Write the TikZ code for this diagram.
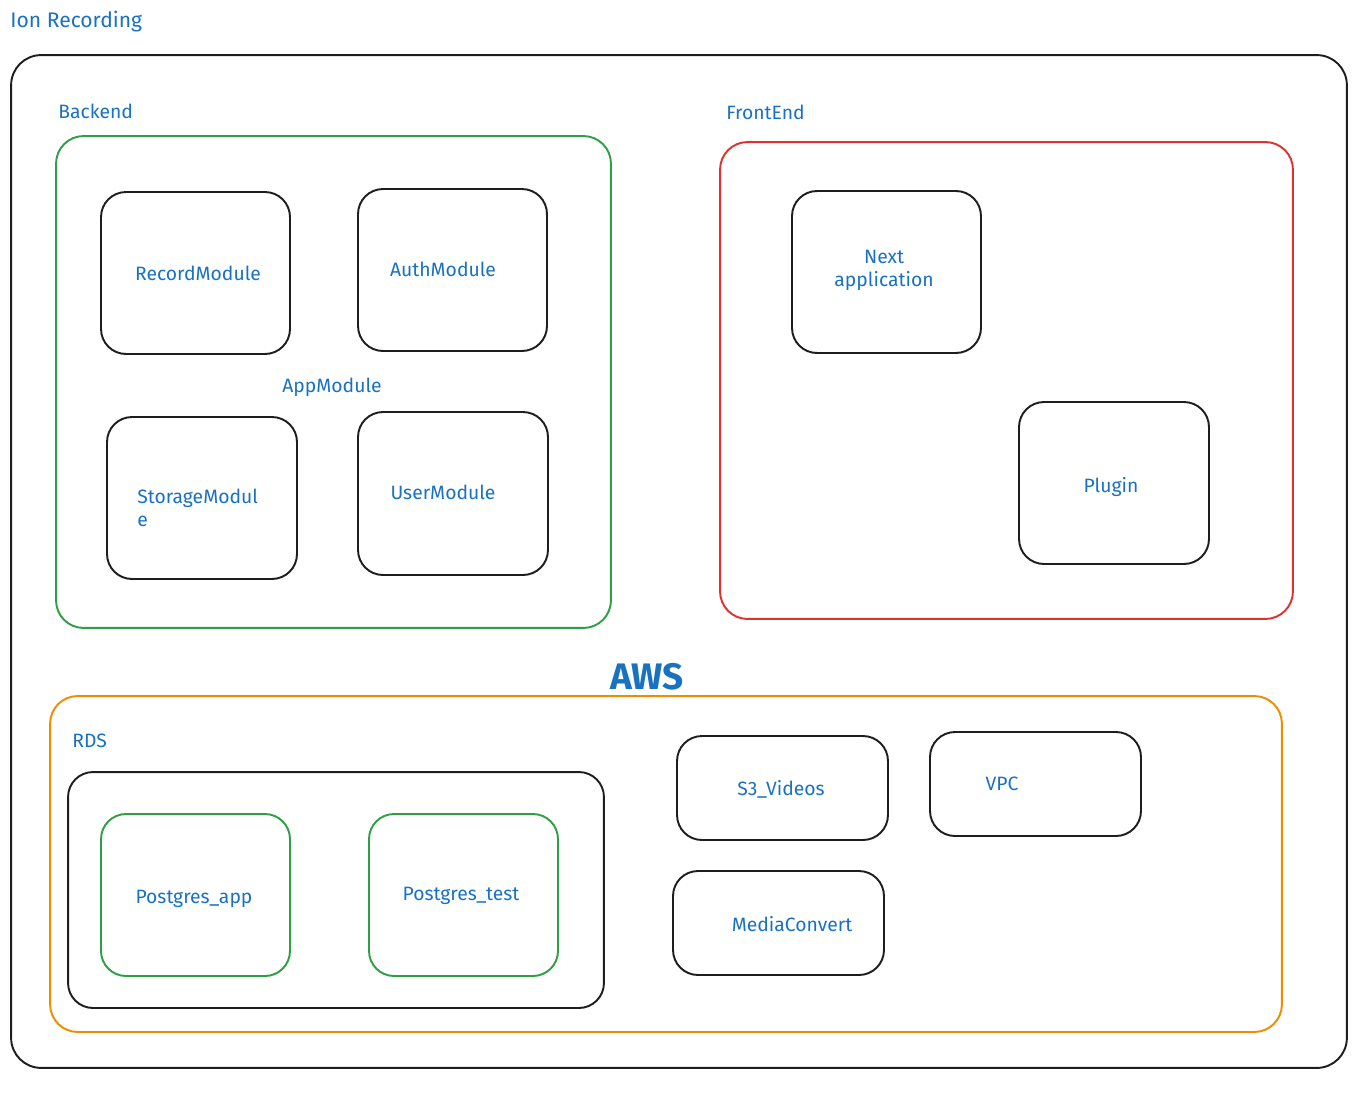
\documentclass[tikz,border=0pt]{standalone}
\usepackage{fontspec}
\setmainfont{Fira Sans}
\definecolor{txtblue}{HTML}{1971C2}
\definecolor{boxgreen}{HTML}{2F9E44}
\definecolor{boxred}{HTML}{E03131}
\definecolor{boxorange}{HTML}{F08C00}
\definecolor{boxblack}{HTML}{1E1E1E}
\tikzset{
  lbl/.style={text=txtblue,font=\fontsize{11}{13}\selectfont,inner sep=0pt},
  modbox/.style={draw=boxblack,line width=1.1pt,rounded corners=0.5cm,text=txtblue,
    font=\fontsize{11}{13}\selectfont,minimum width=3.78cm,minimum height=3.24cm,align=center},
  svcbox/.style={modbox,minimum width=4.22cm,minimum height=2.08cm},
  group/.style={line width=1.1pt,rounded corners=0.55cm,inner sep=0pt}
}
\begin{document}
\begin{tikzpicture}[x=0.02cm,y=-0.02cm]
            \useasboundingbox (0,0) rectangle (1356,1096);
            \node[lbl,anchor=west,font=\fontsize{12}{14}\selectfont] (title) at (10,22) {Ion Recording};
            \node[group,draw=boxblack,minimum width=26.72cm,minimum height=20.26cm,rounded corners=0.6cm] (outer) at (679,561.5) {};
            % backend
            \node[lbl,anchor=west] (backendlbl) at (58,111) {Backend};
            \node[group,draw=boxgreen,minimum width=11.1cm,minimum height=9.84cm] (backend) at (333.5,382) {};
            \node[modbox] (record) at (195.5,273) {};
            \node[lbl] (recordlbl) at (198,273) {RecordModule};
            \node[modbox] (auth) at (452.5,270) {};
            \node[lbl] (authlbl) at (443,269) {AuthModule};
            \node[lbl] (appmod) at (332,387) {AppModule};
            \node[modbox,minimum width=3.8cm] (storage) at (202,498) {};
            \node[lbl,anchor=north west,align=left] (storagelbl) at (137,489) {StorageModul\\e};
            \node[modbox,minimum width=3.8cm,minimum height=3.26cm] (user) at (453,493.5) {};
            \node[lbl] (userlbl) at (443,492) {UserModule};
            % frontend
            \node[lbl,anchor=west] (frontendlbl) at (726,112) {FrontEnd};
            \node[group,draw=boxred,minimum width=11.46cm,minimum height=9.54cm] (frontend) at (1006.5,380.5) {};
            \node[modbox] (next) at (886.5,272) {};
            \node[lbl,align=center] (nextlbl) at (884,270) {Next\\application};
            \node[modbox,minimum width=3.8cm] (plugin) at (1114,483) {};
            \node[lbl] (pluginlbl) at (1111,487) {Plugin};
            % aws
            \node[text=txtblue,font=\fontsize{21}{24}\bfseries\selectfont,inner sep=0pt] (awslbl) at (647,677) {AWS};
            \node[group,draw=boxorange,minimum width=24.64cm,minimum height=6.72cm] (aws) at (666,864) {};
            \node[lbl,anchor=west] (rdslbl) at (72,741) {RDS};
            \node[group,draw=boxblack,minimum width=10.72cm,minimum height=4.72cm,rounded corners=0.5cm] (rds) at (336,890) {};
            \node[modbox,draw=boxgreen] (pgapp) at (195.5,895) {};
            \node[lbl] (pgapplbl) at (194,899) {Postgres\_app};
            \node[modbox,draw=boxgreen] (pgtest) at (463.5,895) {};
            \node[lbl] (pgtestlbl) at (461,896) {Postgres\_test};
            \node[svcbox] (s3) at (782.5,788) {};
            \node[lbl] (s3lbl) at (781,789) {S3\_Videos};
            \node[svcbox] (vpc) at (1035.5,784) {};
            \node[lbl] (vpclbl) at (1002,784) {VPC};
            \node[svcbox] (media) at (778.5,923) {};
            \node[lbl] (medialbl) at (792,924) {MediaConvert};
        \end{tikzpicture}
\end{document}
